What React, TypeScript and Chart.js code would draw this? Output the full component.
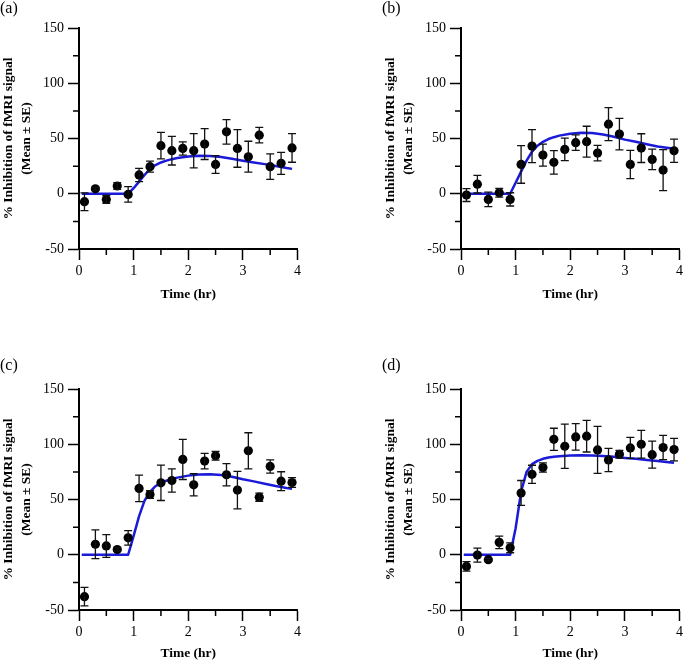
import React, { useEffect, useRef } from "react";
import { Chart, registerables } from "chart.js";

Chart.register(...registerables);

// ---------- data ----------
const timeHr = [0.1, 0.3, 0.5, 0.7, 0.9, 1.1, 1.3, 1.5, 1.7, 1.9, 2.1, 2.3, 2.5, 2.7, 2.9, 3.1, 3.3, 3.5, 3.7, 3.9];

const meanA = [-7.2, 4.5, -5.1, 7.0, -0.6, 17.0, 24.5, 43.5, 39.0, 41.0, 39.0, 45.0, 26.5, 56.0, 41.0, 33.5, 53.0, 24.5, 27.5, 41.5];
const seA = [8.0, 1.5, 3.5, 3.0, 7.0, 6.0, 5.0, 12.0, 13.0, 6.0, 15.5, 14.0, 8.0, 11.0, 17.0, 14.0, 7.0, 11.5, 10.0, 13.0];

const meanB = [-1.2, 8.7, -5.1, 0.9, -5.1, 26.5, 43.1, 35.0, 28.4, 40.1, 46.2, 47.1, 36.8, 63.0, 54.0, 26.5, 41.3, 31.1, 21.4, 38.9];
const seB = [5.8, 8.0, 6.6, 4.0, 6.0, 17.0, 15.0, 10.0, 10.6, 10.2, 7.0, 14.0, 7.0, 15.0, 14.3, 12.8, 13.0, 9.3, 18.5, 10.5];

const meanC = [-37.9, 9.5, 8.0, 4.7, 15.3, 60.0, 54.5, 65.1, 67.2, 86.3, 63.3, 84.8, 89.6, 72.4, 58.5, 94.1, 52.1, 79.9, 66.6, 65.4];
const seC = [8.3, 13.0, 10.3, 1.5, 6.5, 12.0, 3.5, 16.0, 10.5, 18.2, 10.0, 7.0, 4.0, 10.0, 17.0, 16.3, 3.7, 6.0, 8.5, 4.4];

const meanD = [-10.6, -0.3, -4.5, 11.2, 6.3, 55.9, 72.8, 78.9, 104.5, 98.2, 106.6, 107.3, 94.9, 85.8, 90.9, 96.7, 100.0, 90.6, 97.0, 95.2];
const seD = [4.3, 6.3, 1.0, 5.6, 4.5, 11.3, 8.2, 4.2, 10.0, 20.0, 12.0, 14.3, 21.3, 10.5, 3.5, 9.5, 12.6, 12.2, 11.0, 10.2];

const curveTime = [0.05, 0.9, 1.0, 1.1, 1.2, 1.3, 1.4, 1.5, 1.6, 1.7, 1.8, 2.0, 2.2, 2.4, 2.6, 2.8, 3.0, 3.2, 3.4, 3.6, 3.8, 3.9];
const fitA = [0, 0, 5, 11, 17, 22.5, 26, 28.3, 30, 31.3, 32.3, 33.7, 34.4, 34.2, 33.2, 31.6, 29.8, 28.2, 26.8, 25.2, 23.3, 22.5];
const fitB = [0, 0, 10, 20, 30, 38, 43.5, 47, 49.5, 51.2, 52.6, 54.3, 55.1, 54.9, 53.6, 51.6, 49, 47, 44.8, 42.8, 41.4, 40.7];
const fitC = [0, 0, 17, 35, 49, 57, 62, 65, 67, 68.5, 69.8, 71.6, 72.7, 72.9, 72.2, 70.6, 68.3, 66.4, 64.2, 62.2, 60.5, 59.8];
const fitD = [0, 0, 24, 57, 75, 82, 85, 86.8, 88, 88.7, 89.2, 89.8, 90, 89.8, 89.4, 88.6, 87.6, 86.8, 85.8, 84.8, 83.7, 83.2];

const xMinor = [0.5, 1.5, 2.5, 3.5];
const yMinor = [-25, 25, 75, 125];
const panelLabels = ["(a)", "(b)", "(c)", "(d)"];
const yTitle = ["% Inhibition of fMRI signal", "(Mean \u00b1 SE)"];
const xTitle = "Time (hr)";

const FONT = "'Liberation Serif', 'Times New Roman', serif";

const errorBarPlugin = {
  id: "errorBars",
  afterDatasetsDraw(chart: any, _args: any, opts: any) {
    const { ctx, scales } = chart;
    const x = scales.x;
    const y = scales.y;
    const means: number[] = opts.means;
    const se: number[] = opts.se;
    if (!means) return;
    ctx.save();
    ctx.strokeStyle = "#111";
    ctx.lineWidth = 1.3;
    means.forEach((m, i) => {
      const px = x.getPixelForValue(timeHr[i]);
      const top = y.getPixelForValue(m + se[i]);
      const bot = y.getPixelForValue(m - se[i]);
      ctx.beginPath();
      ctx.moveTo(px, top);
      ctx.lineTo(px, bot);
      ctx.moveTo(px - 4, top);
      ctx.lineTo(px + 4, top);
      ctx.moveTo(px - 4, bot);
      ctx.lineTo(px + 4, bot);
      ctx.stroke();
    });
    ctx.restore();
  },
};

const minorTickPlugin = {
  id: "minorTicks",
  afterDraw(chart: any) {
    const { ctx, scales, chartArea } = chart;
    ctx.save();
    ctx.strokeStyle = "#000";
    ctx.lineWidth = 1.5;
    ctx.beginPath();
    xMinor.forEach((v) => {
      const px = scales.x.getPixelForValue(v);
      ctx.moveTo(px, chartArea.bottom);
      ctx.lineTo(px, chartArea.bottom + 6);
    });
    yMinor.forEach((v) => {
      const py = scales.y.getPixelForValue(v);
      ctx.moveTo(chartArea.left, py);
      ctx.lineTo(chartArea.left - 6, py);
    });
    ctx.stroke();
    ctx.restore();
  },
};

type PanelProps = {
  left: number;
  top: number;
  means: number[];
  se: number[];
  fit: number[];
  titlePad: number;
};

function Panel({ left, top, means, se, fit, titlePad }: PanelProps) {
  const ref = useRef<HTMLCanvasElement | null>(null);
  useEffect(() => {
    if (!ref.current) return;
    const chart = new Chart(ref.current, {
      type: "scatter",
      data: {
        datasets: [
          {
            label: "data",
            data: timeHr.map((t, i) => ({ x: t, y: means[i] })),
            pointRadius: 4.6,
            pointBackgroundColor: "#000",
            pointBorderWidth: 0,
            order: 0,
          },
          {
            label: "fit",
            data: curveTime.map((t, i) => ({ x: t, y: fit[i] })),
            showLine: true,
            pointRadius: 0,
            borderColor: "#1a1ad8",
            borderWidth: 2.5,
            tension: 0,
            borderJoinStyle: "round",
            order: 1,
          },
        ],
      },
      options: {
        animation: false,
        responsive: false,
        maintainAspectRatio: false,
        layout: { padding: { top: 28, right: 4, bottom: 0, left: 0 } },
        plugins: {
          legend: { display: false },
          tooltip: { enabled: false },
          errorBars: { means, se },
        } as any,
        scales: {
          x: {
            type: "linear",
            min: 0,
            max: 4,
            afterFit: (s: any) => {
              s.height = 54;
            },
            border: { display: true, color: "#000", width: 2 },
            grid: {
              drawOnChartArea: false,
              drawTicks: true,
              tickLength: 11,
              tickColor: "#000",
              tickWidth: 1.5,
            },
            ticks: {
              stepSize: 1,
              padding: 3,
              color: "#000",
              font: { family: FONT, size: 14 },
              maxRotation: 0,
            },
            title: {
              display: true,
              text: xTitle,
              color: "#000",
              font: { family: FONT, size: 13.5, weight: "bold" },
              padding: { top: 0, bottom: titlePad },
            },
          },
          y: {
            type: "linear",
            min: -50,
            max: 150,
            afterFit: (s: any) => {
              s.width = 79;
            },
            border: { display: true, color: "#000", width: 2 },
            grid: {
              drawOnChartArea: false,
              drawTicks: true,
              tickLength: 11,
              tickColor: "#000",
              tickWidth: 1.5,
            },
            ticks: {
              stepSize: 50,
              padding: 4,
              color: "#000",
              font: { family: FONT, size: 14 },
            },
            title: {
              display: true,
              text: yTitle,
              color: "#000",
              font: { family: FONT, size: 13.5, weight: "bold", lineHeight: 1.35 },
              padding: { top: -1, bottom: 0 },
            },
          },
        },
      },
      plugins: [errorBarPlugin, minorTickPlugin],
    } as any);
    return () => chart.destroy();
  }, [means, se, fit, titlePad]);

  return (
    <canvas
      ref={ref}
      width={304}
      height={303}
      style={{ position: "absolute", left, top, width: 304, height: 303 }}
    />
  );
}

const labelStyle = (left: number, top: number): React.CSSProperties => ({
  position: "absolute",
  left,
  top,
  fontFamily: FONT,
  fontSize: 16,
  lineHeight: "16px",
  color: "#000",
});

export default function App() {
  return (
    <div
      style={{
        position: "absolute",
        left: 0,
        top: 0,
        width: 685,
        height: 662,
        overflow: "hidden",
        background: "#fff",
      }}
    >
      <Panel left={0} top={0} means={meanA} se={seA} fit={fitA} titlePad={0} />
      <Panel left={382} top={0} means={meanB} se={seB} fit={fitB} titlePad={0} />
      <Panel left={0} top={361} means={meanC} se={seC} fit={fitC} titlePad={2} />
      <Panel left={382} top={361} means={meanD} se={seD} fit={fitD} titlePad={2} />
      <span style={labelStyle(0, 0)}>{panelLabels[0]}</span>
      <span style={labelStyle(382, 0)}>{panelLabels[1]}</span>
      <span style={labelStyle(0, 357)}>{panelLabels[2]}</span>
      <span style={labelStyle(382, 357)}>{panelLabels[3]}</span>
    </div>
  );
}
